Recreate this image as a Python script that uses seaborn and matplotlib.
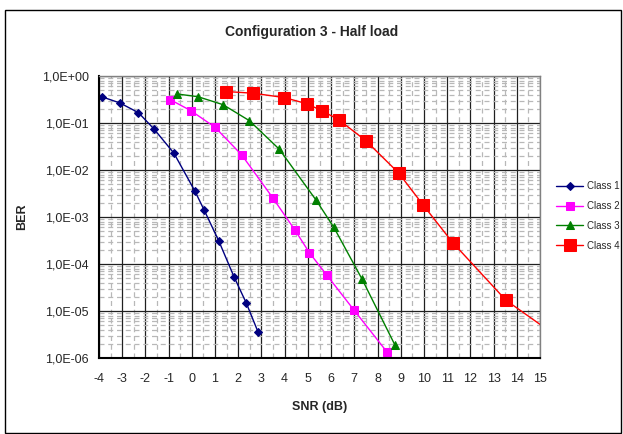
import matplotlib
matplotlib.use("Agg")
import matplotlib.pyplot as plt
import matplotlib.ticker as mticker
from matplotlib.patches import Rectangle
import seaborn as sns
import numpy as np

# Data
class1_snr = [-3.85, -3.1, -2.3, -1.63, -0.77, 0.13, 0.52, 1.16, 1.82, 2.35, 2.85]
class1_ber = [0.357, 0.267, 0.166, 0.0745, 0.0227, 0.00357, 0.00144, 3.1e-4, 5.3e-5, 1.46e-5, 3.6e-6]

class2_snr = [-0.94, -0.05, 1.0, 2.15, 3.49, 4.45, 5.06, 5.82, 6.97, 8.42]
class2_ber = [0.315, 0.184, 0.081, 0.0209, 0.00254, 5.2e-4, 1.75e-4, 5.75e-5, 1.07e-5, 1.32e-6]

class3_snr = [-0.63, 0.26, 1.34, 2.48, 3.77, 5.36, 6.12, 7.33, 8.74]
class3_ber = [0.414, 0.363, 0.246, 0.112, 0.0276, 0.00226, 6.0e-4, 4.8e-5, 1.93e-6]

class4_snr = [1.48, 2.65, 3.99, 4.94, 5.59, 6.32, 7.49, 8.91, 9.95, 11.24, 13.53, 15.6]
class4_ber = [0.467, 0.43, 0.347, 0.258, 0.184, 0.118, 0.0423, 0.00863, 0.00184, 2.85e-4, 1.7e-5, 3.2e-6]

x_ticks = list(range(-4, 16))

sns.set_style("white")
plt.rcParams['font.family'] = ['Liberation Sans', 'DejaVu Sans']

fig = plt.figure(figsize=(6.23, 4.34), dpi=100)
ax = fig.add_axes([99 / 623, 1 - 358 / 434, 441 / 623, 282 / 434])

ax.set_yscale("log")
ax.set_xlim(-4, 15)
ax.set_ylim(1e-6, 1)
ax.xaxis.set_minor_locator(mticker.MultipleLocator(0.5))
ax.yaxis.set_minor_locator(mticker.LogLocator(base=10, subs=np.arange(2, 10), numticks=20))
ax.grid(which="minor", color="#b8b8b8", linestyle=(0, (4, 3)), linewidth=0.9)
ax.grid(which="major", color="#202020", linestyle="-", linewidth=0.9)
ax.set_axisbelow(True)

series = [
    ("Class 1", class1_snr, class1_ber, "#000080", "D", 4.5),
    ("Class 2", class2_snr, class2_ber, "#ff00ff", "s", 5.5),
    ("Class 3", class3_snr, class3_ber, "#008000", "^", 6),
    ("Class 4", class4_snr, class4_ber, "#ff0000", "s", 8.5),
]
for name, xs, ys, col, mk, ms in series:
    sns.lineplot(x=xs, y=ys, ax=ax, color=col, marker=mk, markersize=ms,
                 markeredgecolor=col, linewidth=1.0, label=name, sort=False,
                 markevery=list(range(min(len(xs), 11))))

ax.set_xticks(x_ticks)
ax.set_xticklabels([str(t) for t in x_ticks], fontsize=9)
ax.yaxis.set_major_locator(mticker.LogLocator(base=10, numticks=10))
ax.yaxis.set_major_formatter(mticker.FuncFormatter(
    lambda v, p: ("%.1E" % v).replace(".", ",")))
ax.tick_params(axis="y", which="major", labelsize=9, length=4, direction="out", width=1)
ax.tick_params(axis="x", which="major", labelsize=9, length=4, direction="inout", width=1, pad=9)
ax.tick_params(which="minor", length=0)

for side in ["left", "bottom"]:
    ax.spines[side].set_color("black")
    ax.spines[side].set_linewidth(1.5)
for side in ["top", "right"]:
    ax.spines[side].set_color("#808080")
    ax.spines[side].set_linewidth(1.0)

ax.set_xlabel("SNR (dB)", fontsize=9, fontweight="bold", labelpad=11)
ax.set_ylabel("BER", fontsize=9, fontweight="bold", labelpad=10)
fig.text(0.5, 1 - 32 / 434, "Configuration 3 - Half load", ha="center", va="center",
         fontsize=10, fontweight="bold")

handles, labels = ax.get_legend_handles_labels()
ax.get_legend().remove()
fig.legend(handles, labels, loc="center left", bbox_to_anchor=(552 / 623, 1 - 216 / 434),
           frameon=False, fontsize=7, handlelength=2.8, handletextpad=0.4, labelspacing=1.0,
           borderaxespad=0)

fig.add_artist(Rectangle((5 / 623, 1 / 434), 616 / 623, 423 / 434, transform=fig.transFigure,
                         fill=False, edgecolor="black", linewidth=1.0))

fig.savefig("out.png", dpi=100)
